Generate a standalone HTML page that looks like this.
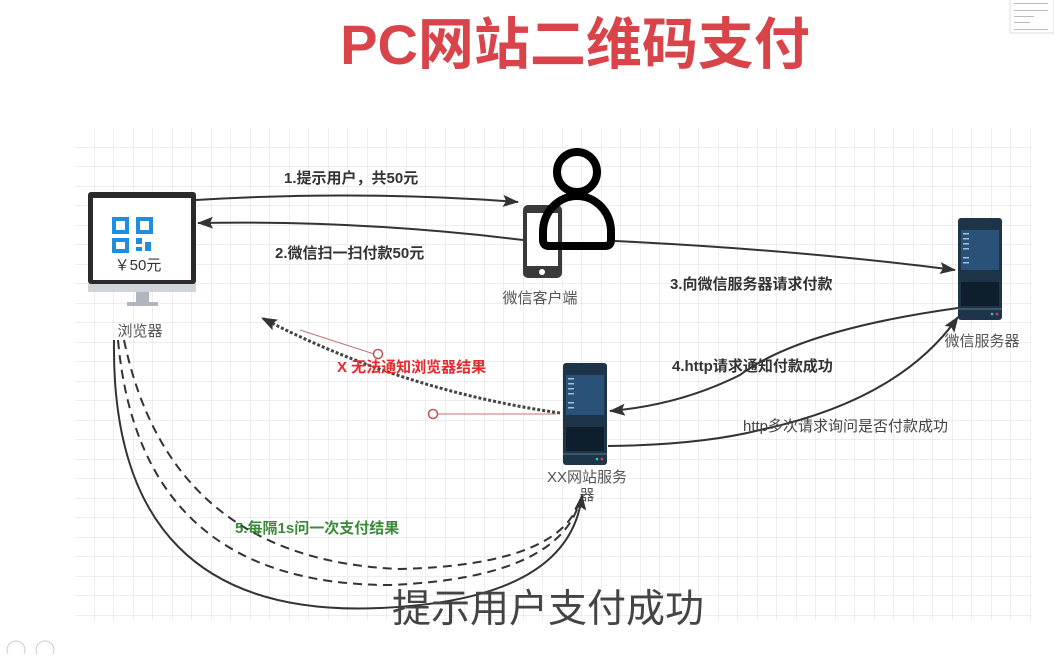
<!DOCTYPE html>
<html><head><meta charset="utf-8"><style>
body{margin:0;background:#fff;width:1054px;height:654px;overflow:hidden;font-family:"Liberation Sans","Noto Sans CJK SC",sans-serif}
</style></head><body>
<svg width="1054" height="654" xmlns="http://www.w3.org/2000/svg" font-family="Liberation Sans, Noto Sans CJK SC, sans-serif">
<defs>
<pattern id="g" width="19.5" height="19.5" patternUnits="userSpaceOnUse" x="75" y="128">
<path d="M19.5 0V19.5M0 19.5H19.5" stroke="#dcdcdc" stroke-width="1" fill="none"/>
</pattern>
<marker id="a2" markerWidth="16" markerHeight="12" refX="15" refY="6" orient="auto" markerUnits="userSpaceOnUse" viewBox="0 0 16 12"><path d="M0,0 L16,6 L0,12 L3,6 z" fill="#333"/></marker>
<g id="srv">
<rect x="0" y="0" width="44" height="102" rx="3" fill="#1e3448"/>
<rect x="3" y="12" width="38" height="40" fill="#2a5278"/>
<g fill="#9fc0de"><rect x="5" y="15" width="6" height="1.5"/><rect x="5" y="20" width="6" height="1.5"/><rect x="5" y="25" width="6" height="1.5"/><rect x="5" y="30" width="6" height="1.5"/><rect x="5" y="39" width="6" height="1.5"/><rect x="5" y="44" width="6" height="1.5"/></g>
<rect x="3" y="64" width="38" height="24" fill="#0f1e2c"/>
<line x1="0" y1="91" x2="44" y2="91" stroke="#5a7a90"/>
<circle cx="34" cy="96" r="1.3" fill="#3c9"/><circle cx="39" cy="96" r="1.3" fill="#e36"/>
</g>
</defs>
<rect x="75" y="128" width="956" height="492" fill="url(#g)"/>
<text x="575" y="64" text-anchor="middle" font-size="56" font-weight="bold" fill="#d9434a">PC网站二维码支付</text>
<rect x="1010" y="-1" width="44" height="34" fill="#fff" stroke="#ddd"/>
<g fill="#bbb"><rect x="1014" y="3" width="34" height="1"/><rect x="1014" y="10" width="34" height="1"/><rect x="1014" y="16" width="20" height="1"/><rect x="1014" y="22" width="16" height="1"/><rect x="1014" y="29" width="34" height="1"/></g>

<!-- monitor -->
<rect x="88" y="192" width="108" height="92" rx="3" fill="#2a2a2a"/>
<rect x="93" y="198" width="98" height="82" fill="#fff"/>
<rect x="88" y="284" width="108" height="8" fill="#cfd4da"/>
<rect x="136" y="292" width="13" height="10" fill="#b0b6bc"/>
<rect x="127" y="302" width="31" height="4" fill="#b0b6bc"/>
<g fill="none" stroke="#1e8fe0" stroke-width="4">
<rect x="114" y="219" width="13" height="13"/><rect x="138" y="219" width="13" height="13"/><rect x="114" y="240" width="13" height="11"/>
</g>
<g fill="#1e8fe0"><rect x="136" y="238" width="6" height="6"/><rect x="145" y="242" width="6" height="9"/><rect x="136" y="247" width="6" height="4"/></g>
<text x="138" y="270" text-anchor="middle" font-size="15" fill="#333">￥50元</text>
<text x="140" y="336" text-anchor="middle" font-size="15" fill="#555">浏览器</text>

<!-- phone & person -->
<rect x="523" y="205" width="39" height="73" rx="5" fill="#3a3a3a"/>
<rect x="527" y="213" width="31" height="53" fill="#fff"/>
<circle cx="542" cy="272" r="3" fill="#fff"/>
<circle cx="577" cy="172" r="20" fill="none" stroke="#000" stroke-width="8"/>
<path d="M543 232 a34 36 0 0 1 68 0 V240 q0 6 -6 6 H549 q-6 0 -6 -6 Z" fill="none" stroke="#000" stroke-width="8" stroke-linejoin="round"/>
<text x="540" y="303" text-anchor="middle" font-size="15" fill="#555">微信客户端</text>

<use href="#srv" x="958" y="218"/>
<text x="982" y="346" text-anchor="middle" font-size="15" fill="#555">微信服务器</text>
<use href="#srv" x="563" y="363"/>
<text x="587" y="482" text-anchor="middle" font-size="15" fill="#555">XX网站服务</text>
<text x="587" y="500" text-anchor="middle" font-size="15" fill="#555">器</text>

<!-- connectors -->
<g fill="none" stroke="#333" stroke-width="2">
<path d="M196 200 Q360 190 518 202" marker-end="url(#a2)"/>
<path d="M523 240 Q360 220 198 223" marker-end="url(#a2)"/>
<path d="M615 241 Q800 250 955 270" marker-end="url(#a2)"/>
<path d="M958 308 Q800 330 740 375 Q680 405 610 411" marker-end="url(#a2)"/>
<path d="M608 446 Q700 445 760 430 Q900 400 958 317" marker-end="url(#a2)"/>
<path d="M114 340 Q110 620 380 608 Q570 600 582 495" marker-end="url(#a2)"/>
</g>
<g fill="none" stroke="#333" stroke-width="2" stroke-dasharray="9,6">
<path d="M118 340 Q140 585 390 585 Q560 578 580 500"/>
<path d="M124 340 Q170 560 400 569 Q555 565 578 505"/>
</g>
<path d="M560 413 Q400 390 262 318" fill="none" stroke="#444" stroke-width="3" stroke-dasharray="3,2" marker-end="url(#a2)"/>
<line x1="436" y1="414" x2="556" y2="414" stroke="#b77" stroke-width="1"/>
<circle cx="433" cy="414" r="4.5" fill="#fff" stroke="#b55" stroke-width="1.5"/>
<line x1="300" y1="330" x2="374" y2="354" stroke="#b77" stroke-width="1"/>
<circle cx="378" cy="354" r="4.5" fill="#fff" stroke="#b55" stroke-width="1.5"/>

<g font-size="15" font-weight="bold" fill="#333">
<text x="284" y="183">1.提示用户，共50元</text>
<text x="275" y="258">2.微信扫一扫付款50元</text>
<text x="670" y="289">3.向微信服务器请求付款</text>
<text x="672" y="371">4.http请求通知付款成功</text>
</g>
<text x="337" y="372" font-size="15" font-weight="bold" fill="#e8282d">X 无法通知浏览器结果</text>
<text x="743" y="431" font-size="15" fill="#444">http多次请求询问是否付款成功</text>
<text x="235" y="533" font-size="15" font-weight="bold" fill="#3a8a3a">5.每隔1s问一次支付结果</text>
<text x="392" y="622" font-size="39" fill="#444">提示用户支付成功</text>
<circle cx="16" cy="650" r="9" fill="none" stroke="#ccc"/>
<circle cx="45" cy="650" r="9" fill="none" stroke="#ccc"/>
</svg>
</body></html>
